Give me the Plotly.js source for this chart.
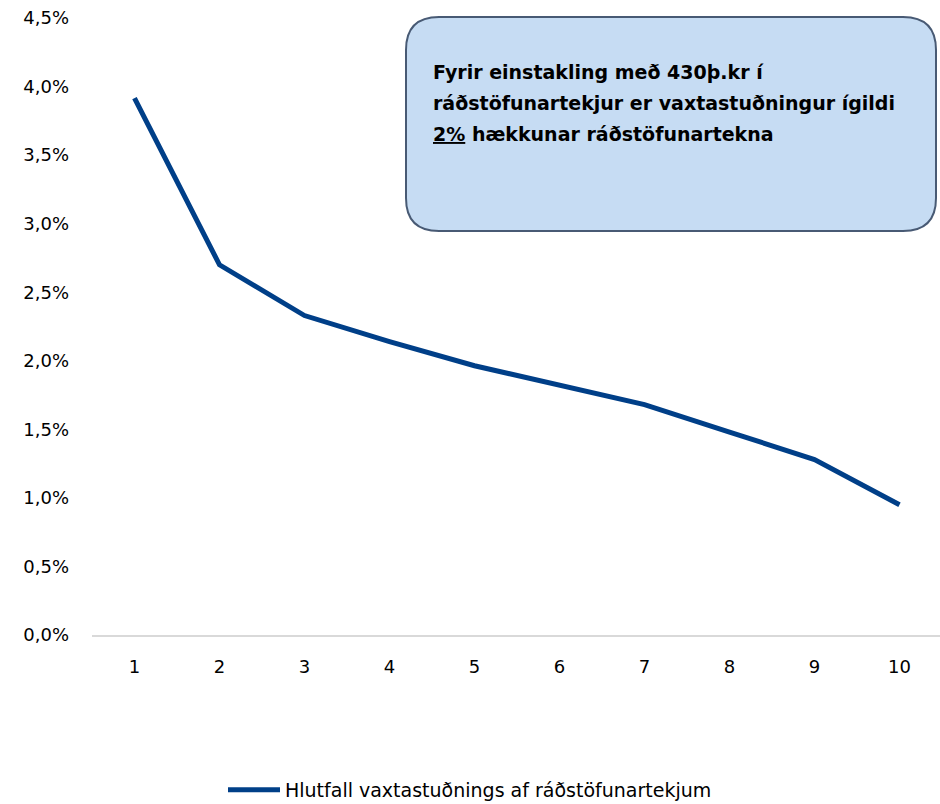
<!DOCTYPE html>
<html>
<head>
<meta charset="utf-8">
<script src="https://cdn.plot.ly/plotly-3.0.1.min.js"></script>
<style>html,body{margin:0;padding:0;background:#fff;}#chart{width:940px;height:804px;}</style>
</head>
<body>
<div id="chart"></div>
<script>
// Data
const categories = ['1','2','3','4','5','6','7','8','9','10'];
const values = [3.915, 2.70, 2.33, 2.14, 1.964, 1.82, 1.68, 1.48, 1.28, 0.95];
const yTickVals = [0, 0.5, 1.0, 1.5, 2.0, 2.5, 3.0, 3.5, 4.0, 4.5];
const yTickText = ['0,0%','0,5%','1,0%','1,5%','2,0%','2,5%','3,0%','3,5%','4,0%','4,5%'];
const seriesName = 'Hlutfall vaxtastuðnings af ráðstöfunartekjum';
const boxLines = [
  '<b>Fyrir einstakling með 430þ.kr í</b>',
  '<b>ráðstöfunartekjur er vaxtastuðningur ígildi</b>',
  '<b><u>2%</u> hækkunar ráðstöfunartekna</b>'
];

const W = 940, H = 804;
const M = {l: 92, r: 0, t: 18, b: 169};
const pw = W - M.l - M.r, ph = H - M.t - M.b;
const px = x => (x - M.l) / pw;
const py = y => (H - M.b - y) / ph;

// rounded box path in paper coords
function roundedBox(x0, y0, x1, y1, r) {
  const X0 = px(x0), X1 = px(x1), Y0 = py(y0), Y1 = py(y1);
  const rx = r / pw, ry = r / ph;
  return `M ${X0 + rx},${Y0} L ${X1 - rx},${Y0} Q ${X1},${Y0} ${X1},${Y0 - ry} ` +
         `L ${X1},${Y1 + ry} Q ${X1},${Y1} ${X1 - rx},${Y1} L ${X0 + rx},${Y1} ` +
         `Q ${X0},${Y1} ${X0},${Y1 + ry} L ${X0},${Y0 - ry} Q ${X0},${Y0} ${X0 + rx},${Y0} Z`;
}

const font = '"DejaVu Sans", sans-serif';

const trace = {
  x: categories,
  y: values,
  type: 'scatter',
  mode: 'lines',
  name: seriesName,
  line: {color: '#003F88', width: 5}
};

const annotations = boxLines.map((t, i) => ({
  xref: 'paper', yref: 'paper',
  x: px(431), y: py(72 + i * 31),
  xanchor: 'left', yanchor: 'middle',
  align: 'left', showarrow: false,
  text: t,
  font: {family: font, size: 19, color: '#000000'}
}));

const layout = {
  width: W, height: H,
  margin: M,
  paper_bgcolor: '#ffffff',
  plot_bgcolor: '#ffffff',
  font: {family: font, size: 17, color: '#000000'},
  showlegend: true,
  legend: {
    orientation: 'h', xref: 'container', yref: 'container',
    x: 0.5, xanchor: 'center', y: (H - 790) / H, yanchor: 'middle',
    itemwidth: 52,
    font: {family: font, size: 19, color: '#000000'}
  },
  xaxis: {
    type: 'category',
    range: [-0.5, -0.5 + pw / 85],
    showgrid: false, zeroline: false,
    showline: true, linecolor: '#D9D9D9', linewidth: 2,
    ticks: '', ticklabelstandoff: 14,
    tickfont: {family: font, size: 18, color: '#000000'},
    fixedrange: true
  },
  yaxis: {
    range: [0, 4.5],
    tickvals: yTickVals, ticktext: yTickText,
    showgrid: false, zeroline: false, showline: false,
    ticks: '', ticklabelstandoff: 22,
    tickfont: {family: font, size: 18, color: '#000000'},
    fixedrange: true
  },
  shapes: [{
    type: 'path', xref: 'paper', yref: 'paper',
    path: roundedBox(406, 17, 936, 231, 33),
    fillcolor: '#C6DCF3',
    line: {color: '#485a74', width: 2},
    layer: 'above'
  }],
  annotations: annotations
};

Plotly.newPlot('chart', [trace], layout, {displayModeBar: false, staticPlot: true});
</script>
</body>
</html>
